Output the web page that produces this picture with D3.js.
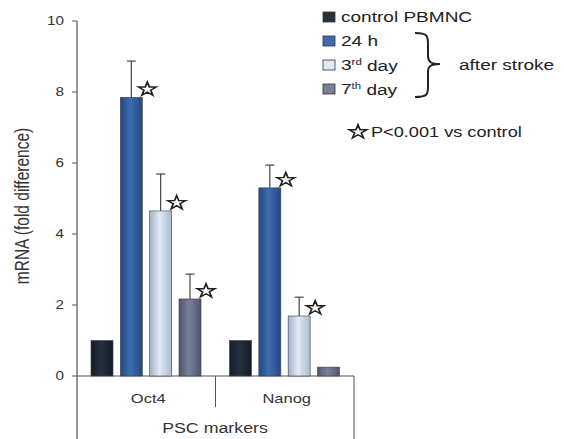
<!DOCTYPE html>
<html>
<head>
<meta charset="utf-8">
<script src="https://cdn.jsdelivr.net/npm/d3@7"></script>
<style>
  body { margin: 0; background: #fff; }
  svg { font-family: "Liberation Sans", Arial, sans-serif; }
</style>
</head>
<body>
<div id="chart"></div>
<script>
// data
var markers = ["Oct4", "Nanog"];
var groups = ["control PBMNC", "24 h", "3rd day", "7th day"];
var oct4Values = [1.0, 7.85, 4.65, 2.17];
var oct4Errors = [0, 1.02, 1.04, 0.7];
var nanogValues = [1.0, 5.3, 1.69, 0.25];
var nanogErrors = [0, 0.64, 0.53, 0];
var oct4Stars = [false, true, true, true];
var nanogStars = [false, true, true, false];
var yTicks = [0, 2, 4, 6, 8, 10];

var colors = [
  ["#141c28", "#25303f", "#141c28"],
  ["#23487f", "#3d6cb4", "#23487f"],
  ["#9fb0c8", "#e2ebf5", "#a9b9cf"],
  ["#4f5570", "#7b809a", "#4f5570"]
];

// the original figure is stretched sideways, so text is widened too
var stretch = 1.27;

var svgWidth = 564, svgHeight = 439;
var svg = d3.select("#chart").append("svg")
    .attr("width", svgWidth)
    .attr("height", svgHeight);

function addText(parent, x, y, size, anchor) {
  return parent.append("text")
      .attr("transform", "translate(" + x + "," + y + ") scale(" + stretch + ",1)")
      .attr("dy", "0.35em")
      .attr("font-size", size)
      .attr("text-anchor", anchor || "start")
      .attr("fill", "#222");
}

var defs = svg.append("defs");
colors.forEach(function(c, i) {
  var g = defs.append("linearGradient").attr("id", "grad" + i)
      .attr("x1", "0%").attr("x2", "100%").attr("y1", "0%").attr("y2", "0%");
  g.append("stop").attr("offset", "0%").attr("stop-color", c[0]);
  g.append("stop").attr("offset", "45%").attr("stop-color", c[1]);
  g.append("stop").attr("offset", "100%").attr("stop-color", c[2]);
});

var axisX = 77, plotRight = 354;
var y = d3.scaleLinear().domain([0, 10]).range([376, 21]);

var x0 = d3.scaleBand().domain(markers).range([axisX, plotRight]).paddingInner(0).paddingOuter(0);
var x1 = d3.scaleBand().domain(groups).range([14, 124]).paddingInner(0.25);

// y axis
svg.append("line")
    .attr("x1", axisX).attr("x2", axisX)
    .attr("y1", y(10)).attr("y2", 439)
    .attr("stroke", "#555").attr("stroke-width", 1.2);

var yAxis = svg.append("g");
yAxis.selectAll("line.tick")
    .data(yTicks).join("line")
    .attr("x1", axisX - 5).attr("x2", axisX)
    .attr("y1", function(d) { return y(d); })
    .attr("y2", function(d) { return y(d); })
    .attr("stroke", "#555");
yTicks.forEach(function(d) {
  addText(yAxis, axisX - 13, y(d), 12, "end").attr("fill", "#333").text(d);
});

svg.append("text")
    .attr("transform", "translate(22,206) rotate(-90) scale(1," + stretch + ")")
    .attr("text-anchor", "middle")
    .attr("dy", "0.35em")
    .attr("font-size", 15.5)
    .attr("fill", "#333")
    .text("mRNA (fold difference)");

// baseline and category lines
svg.append("line")
    .attr("x1", axisX).attr("x2", plotRight)
    .attr("y1", y(0)).attr("y2", y(0))
    .attr("stroke", "#555").attr("stroke-width", 1.2);
svg.append("line")
    .attr("x1", x0("Nanog")).attr("x2", x0("Nanog"))
    .attr("y1", y(0)).attr("y2", 407)
    .attr("stroke", "#555");
svg.append("line")
    .attr("x1", plotRight).attr("x2", plotRight)
    .attr("y1", y(0)).attr("y2", 439)
    .attr("stroke", "#555");

markers.forEach(function(m) {
  addText(svg, x0(m) + x0.bandwidth() / 2 + 2, 398, 13, "middle").attr("fill", "#333").text(m);
});
addText(svg, 215, 428, 14, "middle").attr("fill", "#333").text("PSC markers");

var starPath = d3.symbol().type(d3.symbolStar).size(60);

var series = [
  { marker: "Oct4", values: oct4Values, errors: oct4Errors, stars: oct4Stars },
  { marker: "Nanog", values: nanogValues, errors: nanogErrors, stars: nanogStars }
];

series.forEach(function(s) {
  var g = svg.append("g").attr("transform", "translate(" + x0(s.marker) + ",0)");
  var rows = groups.map(function(name, i) {
    return { name: name, i: i, v: s.values[i], e: s.errors[i], star: s.stars[i] };
  });

  // error bars first so the bar covers the lower part
  g.selectAll("g.err")
      .data(rows.filter(function(d) { return d.e > 0; }))
      .join("g")
      .each(function(d) {
        var cx = x1(d.name) + x1.bandwidth() / 2;
        var e = d3.select(this);
        e.append("line")
            .attr("x1", cx).attr("x2", cx)
            .attr("y1", y(d.v)).attr("y2", y(d.v + d.e))
            .attr("stroke", "#444").attr("stroke-width", 1.2);
        e.append("line")
            .attr("x1", cx - 4.5).attr("x2", cx + 4.5)
            .attr("y1", y(d.v + d.e)).attr("y2", y(d.v + d.e))
            .attr("stroke", "#444").attr("stroke-width", 1.2);
      });

  g.selectAll("rect")
      .data(rows).join("rect")
      .attr("x", function(d) { return x1(d.name); })
      .attr("width", x1.bandwidth())
      .attr("y", function(d) { return y(d.v); })
      .attr("height", function(d) { return y(0) - y(d.v); })
      .attr("fill", function(d) { return "url(#grad" + d.i + ")"; })
      .attr("stroke", "#3a3f4a")
      .attr("stroke-width", 0.6);

  g.selectAll("path.star")
      .data(rows.filter(function(d) { return d.star; }))
      .join("path")
      .attr("class", "star")
      .attr("d", starPath)
      .attr("transform", function(d) {
        return "translate(" + (x1(d.name) + x1.bandwidth() + 5) + "," + (y(d.v) - 8) + ") scale(" + stretch + ",1)";
      })
      .attr("fill", "#fff")
      .attr("stroke", "#222")
      .attr("stroke-width", 1.4);
});

// legend
var legend = svg.append("g");
var legendY = [17, 41, 65, 89];
var legendLabels = [["control PBMNC", ""], ["24 h", ""], ["3", "rd"], ["7", "th"]];
groups.forEach(function(name, i) {
  legend.append("rect")
      .attr("x", 323).attr("y", legendY[i] - 5)
      .attr("width", 12).attr("height", 10)
      .attr("fill", colors[i][1])
      .attr("stroke", "#333").attr("stroke-width", 0.8);
  var t = addText(legend, 341, legendY[i], 15);
  if (i < 2) {
    t.text(name);
  } else {
    t.append("tspan").text(legendLabels[i][0]);
    t.append("tspan").attr("font-size", 9).attr("dy", "-0.6em").text(legendLabels[i][1]);
    t.append("tspan").attr("dy", "0.4em").text(" day");
  }
});

// brace
legend.append("path")
    .attr("d", "M415,33 C428,33 428,36 428,45 L428,56 C428,62 431,64 440,64 C431,64 428,66 428,72 L428,86 C428,94 428,97 415,97")
    .attr("fill", "none").attr("stroke", "#222").attr("stroke-width", 2);
addText(legend, 459, 65, 15).text("after stroke");

legend.append("path")
    .attr("d", starPath)
    .attr("transform", "translate(358,132) scale(" + stretch + ",1)")
    .attr("fill", "#fff").attr("stroke", "#222").attr("stroke-width", 1.4);
addText(legend, 371, 132, 14.3).text("P<0.001 vs control");
</script>
</body>
</html>
